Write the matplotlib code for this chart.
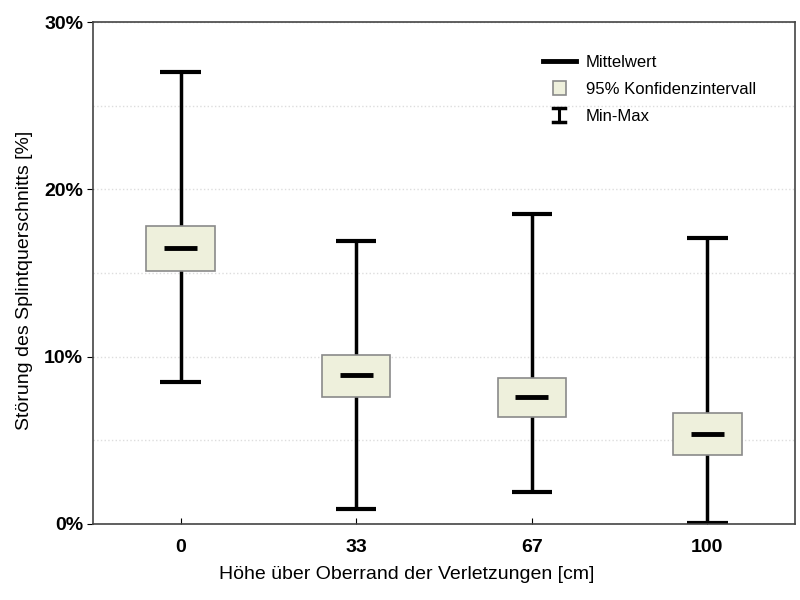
import matplotlib
matplotlib.use("Agg")
import matplotlib.pyplot as plt
from matplotlib.patches import Rectangle
from matplotlib.lines import Line2D
from matplotlib.legend_handler import HandlerBase
import numpy as np

plt.rcParams['font.family'] = ['Liberation Sans', 'DejaVu Sans']

categories = ["0", "33", "67", "100"]
means = [16.5, 8.9, 7.6, 5.4]
ci_low = [15.1, 7.6, 6.4, 4.1]
ci_high = [17.8, 10.1, 8.7, 6.6]
mins = [8.5, 0.9, 1.9, 0.05]
maxs = [27.0, 16.9, 18.5, 17.1]
yticks = [0, 10, 20, 30]
ytick_labels = ["0%", "10%", "20%", "30%"]

fig = plt.figure(figsize=(8, 6), dpi=100)
ax = fig.add_axes([0.116, 0.127, 0.878, 0.836])

box_w = 0.39
cap_w = 0.23
mean_w = 0.19
fill = "#EEF0DC"
edge = "#8a8a8a"

x = np.arange(len(categories))
for i in x:
    ax.plot([i, i], [mins[i], maxs[i]], color="black", lw=2.5, zorder=2, solid_capstyle="butt")
    ax.plot([i - cap_w/2, i + cap_w/2], [maxs[i]]*2, color="black", lw=3, zorder=2, solid_capstyle="butt")
    ax.plot([i - cap_w/2, i + cap_w/2], [mins[i]]*2, color="black", lw=3, zorder=2, solid_capstyle="butt")
    ax.add_patch(Rectangle((i - box_w/2, ci_low[i]), box_w, ci_high[i] - ci_low[i],
                           facecolor=fill, edgecolor=edge, lw=1.2, zorder=3))
    ax.plot([i - mean_w/2, i + mean_w/2], [means[i]]*2, color="black", lw=3.5, zorder=4, solid_capstyle="butt")

ax.set_xlim(-0.5, 3.5)
ax.set_ylim(0, 30)
ax.set_xticks(x)
ax.set_xticklabels(categories, fontsize=14, fontweight="bold")
ax.set_yticks(yticks)
ax.set_yticklabels(ytick_labels, fontsize=14, fontweight="bold")
ax.set_yticks([5, 15, 25], minor=True)
ax.tick_params(axis="x", direction="in", length=4, pad=11)
ax.tick_params(axis="y", direction="out", length=4, pad=3)
ax.tick_params(axis="y", which="minor", length=0)
ax.grid(True, axis="y", which="both", color="#dddddd", linestyle=":", lw=1)
ax.set_axisbelow(True)
for s in ax.spines.values():
    s.set_color("#444444")
    s.set_linewidth(1.2)

ax.set_xlabel("Höhe über Oberrand der Verletzungen [cm]", fontsize=14)
ax.set_ylabel("Störung des Splintquerschnitts [%]", fontsize=14)
ax.xaxis.set_label_coords(0.447, -0.084)
ax.yaxis.set_label_coords(-0.085, 0.486)


class MinMaxHandler(HandlerBase):
    def create_artists(self, legend, orig_handle, xdescent, ydescent, width, height, fontsize, trans):
        cx = width / 2 - xdescent
        h = height * 1.15
        y0 = -ydescent + (height - h) / 2
        cw = width * 0.36
        l1 = Line2D([cx, cx], [y0, y0 + h], color="black", lw=2.2, transform=trans)
        l2 = Line2D([cx - cw/2, cx + cw/2], [y0, y0], color="black", lw=2.5, transform=trans)
        l3 = Line2D([cx - cw/2, cx + cw/2], [y0 + h, y0 + h], color="black", lw=2.5, transform=trans)
        return [l1, l2, l3]


class BoxHandler(HandlerBase):
    def create_artists(self, legend, orig_handle, xdescent, ydescent, width, height, fontsize, trans):
        cx = width / 2 - xdescent
        bw = width * 0.38
        bh = height * 1.25
        r = Rectangle((cx - bw/2, -ydescent + (height - bh)/2), bw, bh,
                      facecolor=fill, edgecolor=edge, lw=1.2, transform=trans)
        return [r]


mean_handle = Line2D([], [], color="black", lw=3.5)
box_handle = Rectangle((0, 0), 1, 1)
mm_handle = Line2D([], [], color="black")
ax.legend([mean_handle, box_handle, mm_handle],
          ["Mittelwert", "95% Konfidenzintervall", "Min-Max"],
          handler_map={box_handle: BoxHandler(), mm_handle: MinMaxHandler()},
          loc="upper left", bbox_to_anchor=(0.619, 0.965), frameon=False,
          fontsize=12, handlelength=2.0, handletextpad=0.6, labelspacing=0.72)

fig.savefig("out.png", dpi=100)
